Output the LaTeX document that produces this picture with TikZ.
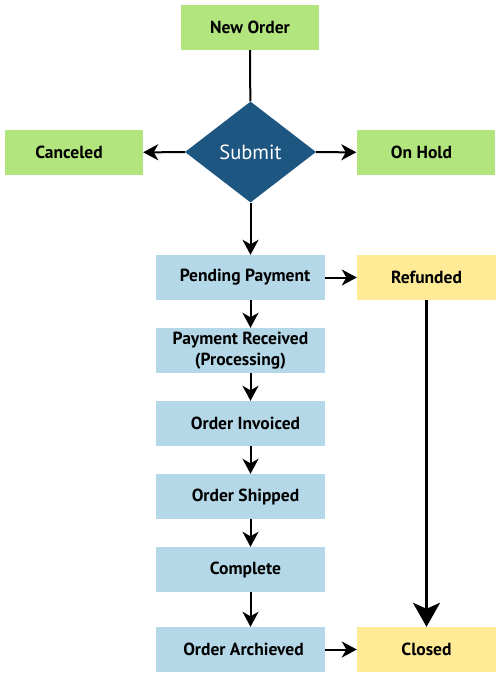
\documentclass[tikz,border=0pt]{standalone}
\usepackage{fontspec}
\setmainfont{PT Sans}
\usetikzlibrary{shapes.geometric,arrows.meta,calc}
\definecolor{grn}{RGB}{178,229,125}
\definecolor{lblue}{RGB}{180,216,231}
\definecolor{ylw}{RGB}{255,234,150}
\definecolor{navy}{RGB}{30,86,130}
\begin{document}
\begin{tikzpicture}[x=1pt,y=-1pt,
  box/.style={minimum height=45pt, inner sep=0pt, align=center,
    font=\fontsize{17.5}{21.5}\selectfont\bfseries},
  gbox/.style={box, fill=grn, minimum width=138pt},
  bbox/.style={box, fill=lblue, minimum width=169pt},
  ybox/.style={box, fill=ylw, minimum width=139pt},
  arr/.style={-{Stealth[length=15pt,width=16pt,inset=4.5pt]}, line width=2pt},
  bigarr/.style={-{Stealth[length=24pt,width=27pt,inset=6pt]}, line width=3pt}]
\useasboundingbox (0,0) rectangle (500,700);
\node[gbox] (new) at (250,27.5) {New Order};
\node[diamond, fill=navy, text=white, inner sep=0pt, minimum width=131pt,
  minimum height=101pt, font=\fontsize{20.5}{24}\selectfont] (sub) at (250.5,152) {Submit};
\node[gbox] (can) at (74,152.5) {\hspace*{-10pt}Canceled};
\node[gbox] (hold) at (425.5,152.5) {\hspace*{-8pt}On Hold};
\node[bbox] (pp) at (240.5,277.5) {\hspace*{9pt}Pending Payment};
\node[ybox] (ref) at (426.5,277.5) {Refunded};
\node[bbox] (pr) at (240.5,350.5) {Payment Received\\(Processing)};
\node[bbox] (oi) at (240.5,423.5) {\hspace*{10pt}Order Invoiced};
\node[bbox] (os) at (240.5,496.5) {\hspace*{10pt}Order Shipped};
\node[bbox] (com) at (240.5,569.5) {\hspace*{10pt}Complete};
\node[bbox] (oa) at (240.5,649.5) {\hspace*{6pt}Order Archieved};
\node[ybox] (clo) at (426.5,649.5) {Closed};

\draw[line width=2pt] (new) -- (sub);
\draw[arr] (sub) -- (can);
\draw[arr] (sub) -- (hold);
\draw[arr] (sub.south) -- (pp.north -| sub.south);
\draw[arr] (pp) -- (ref);
\draw[arr] (pp.south -| sub.south) -- (pr.north -| sub.south);
\draw[arr] (pr.south -| sub.south) -- (oi.north -| sub.south);
\draw[arr] (oi.south -| sub.south) -- (os.north -| sub.south);
\draw[arr] (os.south -| sub.south) -- (com.north -| sub.south);
\draw[arr] (com.south -| sub.south) -- (oa.north -| sub.south);
\draw[arr] (oa) -- (clo);
\draw[bigarr] (ref) -- (clo);
\end{tikzpicture}
\end{document}
